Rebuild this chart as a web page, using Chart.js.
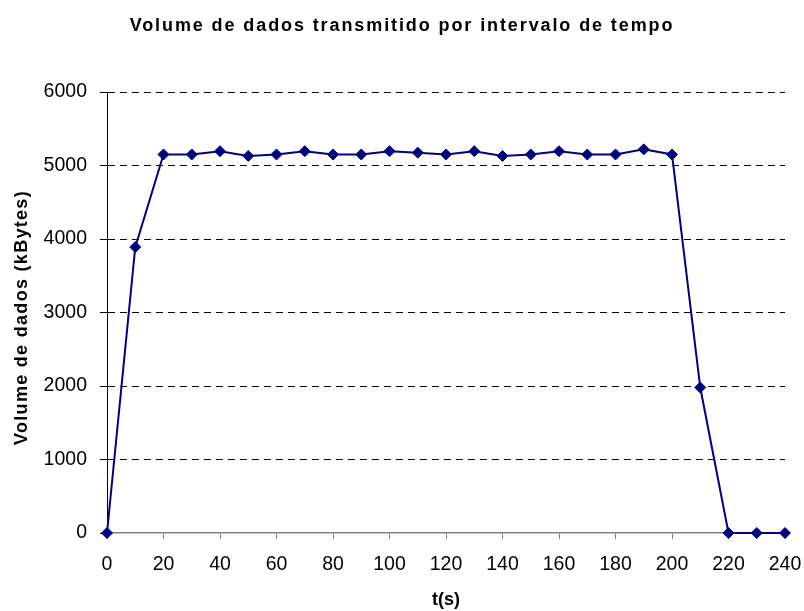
<!DOCTYPE html>
<html>
<head>
<meta charset="utf-8">
<script src="https://cdn.jsdelivr.net/npm/chart.js@4/dist/chart.umd.min.js"></script>
<style>
html,body{margin:0;padding:0;background:#fff;}
canvas{display:block;}
</style>
</head>
<body>
<canvas id="c" width="804" height="611" style="width:804px;height:611px"></canvas>
<script>
const chartTitle = 'Volume de dados transmitido por intervalo de tempo';
const xTitle = 't(s)';
const yTitle = 'Volume de dados (kBytes)';
const times = [0,10,20,30,40,50,60,70,80,90,100,110,120,130,140,150,160,170,180,190,200,210,220,230,240];
const volumes = [0,3890,5150,5150,5195,5130,5150,5195,5150,5150,5195,5175,5150,5195,5130,5150,5195,5150,5150,5220,5150,1980,0,0,0];
const yTicks = [0,1000,2000,3000,4000,5000,6000];
const xTicks = [0,20,40,60,80,100,120,140,160,180,200,220,240];

const FONT = '"Liberation Sans", Arial, sans-serif';
const navy = '#000080';

// letter spacing (and small shift) for the chart title and the y axis title, as in the reference rendering
const spacingPlugin = {
  id: 'spacing',
  afterLayout(chart) {
    const wrap = (obj, name, sp, dx, dy) => {
      if (!obj || obj['_w_' + name]) return;
      const orig = obj[name].bind(obj);
      obj[name] = function (...a) {
        const ctx = chart.ctx;
        ctx.save();
        ctx.translate(dx, dy);
        ctx.letterSpacing = sp;
        orig(...a);
        ctx.restore();
        ctx.letterSpacing = '0px';
      };
      obj['_w_' + name] = true;
    };
    wrap(chart.titleBlock, 'draw', '1.9px', 0, 0);
    wrap(chart.scales.y, 'drawTitle', '1.3px', 0, 5);
  }
};

new Chart(document.getElementById('c'), {
  type: 'line',
  plugins: [spacingPlugin],
  data: {
    datasets: [{
      data: times.map((t, i) => ({x: t, y: volumes[i]})),
      borderColor: navy,
      backgroundColor: navy,
      borderWidth: 2,
      pointStyle: 'rectRot',
      pointRadius: 5.5,
      pointHoverRadius: 5.5,
      pointBackgroundColor: navy,
      pointBorderColor: navy,
      pointBorderWidth: 1,
      tension: 0,
      clip: false
    }]
  },
  options: {
    responsive: false,
    animation: false,
    events: [],
    layout: {padding: {left: 0, right: 0, top: 0, bottom: 0}},
    plugins: {
      legend: {display: false},
      tooltip: {enabled: false},
      title: {
        display: true,
        text: chartTitle,
        color: '#000',
        font: {family: FONT, size: 18, weight: 'bold'},
        padding: {top: 15, bottom: 55.4}
      }
    },
    scales: {
      x: {
        type: 'linear',
        min: 0, max: 240,
        afterBuildTicks: s => { s.ticks = xTicks.map(v => ({value: v})); },
        afterFit: s => { s.height = 78; s.paddingRight = 19; s.paddingLeft = 0; },
        ticks: {color: '#000', font: {family: FONT, size: 19.5}, padding: 14, maxRotation: 0, autoSkip: false, callback: v => String(v)},
        grid: {drawOnChartArea: false, drawTicks: true, tickLength: 6, tickColor: '#808080', tickWidth: 1},
        border: {display: true, color: '#808080', width: 1.5},
        title: {display: true, text: xTitle, color: '#000', font: {family: FONT, size: 18, weight: 'bold'}, padding: {top: 0, bottom: 0}}
      },
      y: {
        min: 0, max: 6000,
        afterBuildTicks: s => { s.ticks = yTicks.map(v => ({value: v})); },
        afterFit: s => { s.width = 107; },
        ticks: {color: '#000', font: {family: FONT, size: 19.5}, padding: 13, callback: v => String(v)},
        grid: {
          color: c => (c.tick && c.tick.value === 0) ? 'rgba(0,0,0,0)' : '#000',
          lineWidth: 1,
          tickLength: 7,
          tickColor: '#000',
          tickBorderDash: [],
          borderDash: [7,5]
        },
        border: {display: true, color: '#000', width: 1, dash: [7,5]},
        title: {display: true, text: yTitle, color: '#000', font: {family: FONT, size: 18, weight: 'bold'}, padding: {top: 11, bottom: 0}}
      }
    }
  }
});
</script>
</body>
</html>
